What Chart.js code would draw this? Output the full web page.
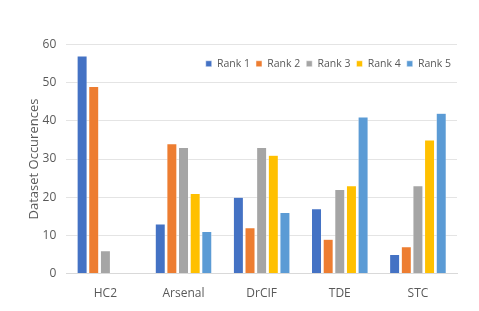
<!DOCTYPE html>
<html>
<head>
<meta charset="utf-8">
<script src="https://cdn.jsdelivr.net/npm/chart.js@4"></script>
<style>
  html, body { margin: 0; padding: 0; background: #fff; }
  #wrap { width: 479px; height: 311px; }
</style>
</head>
<body>
<div id="wrap"><canvas id="grafico"></canvas></div>
<script>
// categorie e valori
var categorie = ["HC2", "Arsenal", "DrCIF", "TDE", "STC"];
var rank1 = [57, 13, 20, 17, 5];
var rank2 = [49, 34, 12, 9, 7];
var rank3 = [6, 33, 33, 22, 23];
var rank4 = [0, 21, 31, 23, 35];
var rank5 = [0, 11, 16, 41, 42];
var etichette = ["Rank 1", "Rank 2", "Rank 3", "Rank 4", "Rank 5"];
var colori = ["#4472C4", "#ED7D31", "#A5A5A5", "#FFC000", "#5B9BD5"];

var serie = [rank1, rank2, rank3, rank4, rank5];
var datasets = [];
for (let i = 0; i < serie.length; i++) {
    datasets.push({
        label: etichette[i],
        data: serie[i],
        backgroundColor: colori[i],
        borderColor: "#ffffff",
        borderWidth: 0.5,
        categoryPercentage: 0.745,
        barPercentage: 0.86
    });
}

var font = { family: "'Open Sans', 'Liberation Sans', sans-serif", size: 11 };

// sposto la legenda dentro l'area del grafico (come in Excel)
var legendaDentro = {
    id: "legendaDentro",
    afterLayout: function(chart){
        let leg = chart.legend;
        let h = leg.bottom - leg.top;
        leg.top = chart.chartArea.top + 8;
        leg.bottom = leg.top + h;
    }
};

new Chart(document.getElementById("grafico"), {
    type: "bar",
    data: { labels: categorie, datasets: datasets },
    plugins: [legendaDentro],
    options: {
        responsive: true,
        maintainAspectRatio: false,
        animation: false,
        layout: { padding: { top: 18, right: 22, bottom: 5, left: 26 } },
        plugins: {
            legend: {
                position: "top",
                align: "end",
                labels: {
                    boxWidth: 6, boxHeight: 6,
                    color: "#595959",
                    font: { family: font.family, size: 10.5 },
                    padding: 6
                }
            },
            tooltip: { enabled: false }
        },
        scales: {
            x: {
                grid: { display: false },
                border: { color: "#D9D9D9" },
                ticks: { color: "#595959", font: { family: font.family, size: 12 }, padding: 5 }
            },
            y: {
                min: 0, max: 60,
                ticks: { stepSize: 10, color: "#595959", font: { family: font.family, size: 12 }, padding: 10 },
                grid: { color: "#E4E4E4", drawTicks: false },
                border: { display: false },
                title: {
                    display: true,
                    text: "Dataset Occurences",
                    color: "#595959",
                    padding: { top: 0, bottom: -9 },
                    font: { family: font.family, size: 13 }
                }
            }
        }
    }
});
</script>
</body>
</html>
